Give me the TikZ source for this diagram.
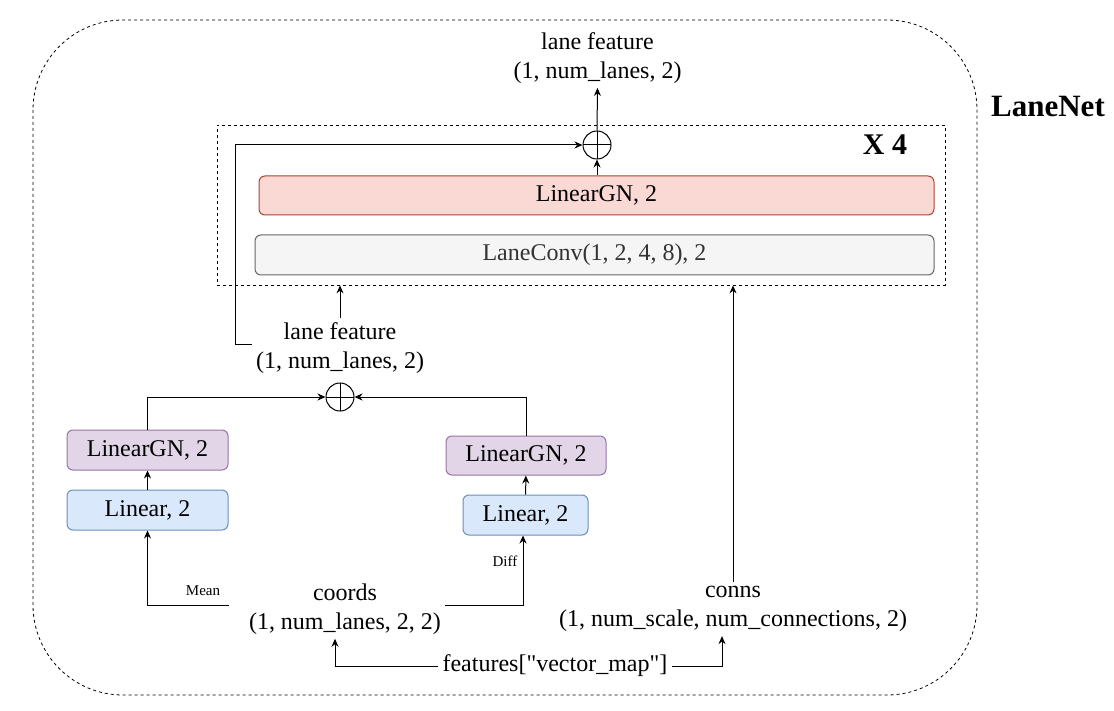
\documentclass[tikz,border=0pt]{standalone}
\usepackage{fontspec}
\setmainfont{Liberation Serif}
\newfontfamily\plainfont{Liberation Serif}
\usetikzlibrary{arrows.meta}
\definecolor{redfill}{HTML}{FAD9D5}
\definecolor{redline}{HTML}{AE4132}
\definecolor{purfill}{HTML}{E1D5E7}
\definecolor{purline}{HTML}{9673A6}
\definecolor{bluefill}{HTML}{DAE8FC}
\definecolor{blueline}{HTML}{6C8EBF}
\definecolor{grayfill}{HTML}{F5F5F5}
\definecolor{grayline}{HTML}{666666}
\definecolor{graytext}{HTML}{333333}
\tikzset{
  layer/.style={draw, rounded corners=3pt, line width=0.5pt, inner sep=0pt, minimum height=20pt},
  redlayer/.style={layer, fill=redfill, draw=redline},
  purlayer/.style={layer, fill=purfill, draw=purline},
  bluelayer/.style={layer, fill=bluefill, draw=blueline},
  graylayer/.style={layer, fill=grayfill, draw=grayline, text=graytext},
  txt/.style={align=center, inner sep=2pt},
  plusnode/.style={circle, draw, line width=0.5pt, minimum size=14pt, inner sep=0pt,
    path picture={\draw[line width=0.5pt] (path picture bounding box.north) -- (path picture bounding box.south)
      (path picture bounding box.west) -- (path picture bounding box.east);}},
  arr/.style={-{Stealth[length=4pt,width=3.5pt]}, line width=0.5pt},
  dashbox/.style={draw, dash pattern=on 1.5pt off 1.5pt, line width=0.4pt}
}

\begin{document}
\begin{tikzpicture}[x=0.5pt, y=-0.5pt, font=\fontsize{12}{14.5}\selectfont]
  \useasboundingbox (0,0) rectangle (1114,711);
  %%%%% START %%%%%
  % outer frame
  \draw[dashbox, rounded corners=45pt] (33,20) rectangle (977,695);
  \node[font=\fontsize{15.5}{18}\selectfont\bfseries] (title) at (1048,107) {LaneNet};

  % repeated block
  \node[dashbox, minimum width=364pt, minimum height=80pt, inner sep=0pt] (loop) at (581,205) {};
  \node[font=\fontsize{15}{18}\selectfont\bfseries] (times) at (885,145) {X 4};
  \node[redlayer, minimum width=337.5pt, minimum height=19.5pt] (gnbig) at (596.5,195.5) {LinearGN, 2};
  \node[graylayer, minimum width=339.5pt] (conv) at (594.5,255) {LaneConv(1, 2, 4, 8), 2};
  \node[plusnode] (plustop) at (597,145) {};
  \node[txt] (featout) at (597.5,58) {lane feature\\(1, num\_lanes, 2)};

  % lane encoder
  \node[txt] (featmid) at (340,348) {lane feature\\(1, num\_lanes, 2)};
  \node[plusnode] (plusbot) at (340,397) {};
  \node[purlayer, minimum width=80.5pt] (gnleft) at (147.5,450) {LinearGN, 2};
  \node[bluelayer, minimum width=80.5pt] (linleft) at (147.5,510) {Linear, 2};
  \node[purlayer, minimum width=80pt, minimum height=19.5pt] (gnright) at (526,455.5) {LinearGN, 2};
  \node[bluelayer, minimum width=62.5pt] (linright) at (525.5,515) {Linear, 2};

  % inputs
  \node[txt] (coords) at (345,609) {coords\\(1, num\_lanes, 2, 2)};
  \node[txt] (conns) at (733,609) {conns\\(1, num\_scale, num\_connections, 2)};
  \node[txt] (vmap) at (555,666) {{\plainfont features["vector\_map"]}};
  \node[font=\fontsize{7.5}{9}\selectfont] (mean) at (203,591) {Mean};
  \node[font=\fontsize{7.5}{9}\selectfont] (diff) at (505,561) {Diff};

  % connectors
  \draw[arr] (vmap.west) -| ([xshift=-5pt]coords.south);
  \draw[arr] (vmap.east) -| ([xshift=-5.5pt]conns.south);
  \draw[arr] ([xshift=-8pt,yshift=2pt]coords.west) -| (linleft.south);
  \draw[arr] ([yshift=2pt]coords.east) -| ([xshift=-1.25pt]linright.south);
  \draw[arr] (linleft) -- (gnleft);
  \draw[arr] (linright) -- (gnright);
  \draw[arr] (gnleft.north) |- (plusbot.west);
  \draw[arr] (gnright.north) |- (plusbot.east);
  \draw[arr] (featmid.north) -- (featmid.north |- loop.south);
  \draw[arr] (conns.north) -- (conns.north |- loop.south);
  \coordinate (skip) at (235,345);
  \draw[arr] ([yshift=1.5pt]featmid.west) -- (skip) |- (plustop.west);
  \draw[arr] (gnbig.north -| plustop) -- (plustop.south);
  \draw[arr] (plustop.north) -- (featout.south);
  %%%%% END %%%%%
\end{tikzpicture}
\end{document}
